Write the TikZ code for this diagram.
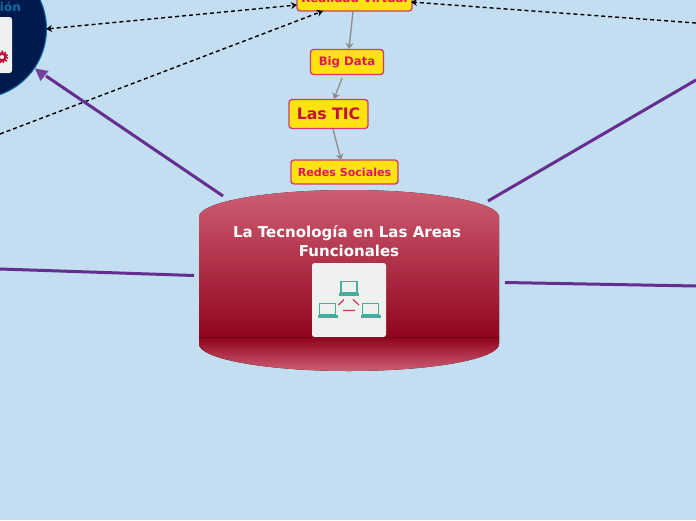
\documentclass[tikz,border=0pt]{standalone}
\usepackage{fontspec}
\setmainfont{DejaVu Sans}
\usetikzlibrary{arrows.meta}
\definecolor{bgc}{HTML}{C3DDF1}
\definecolor{yel}{HTML}{FFE210}
\definecolor{pinkb}{HTML}{CF3E6A}
\definecolor{pinkt}{HTML}{E5145F}
\definecolor{rubyt}{HTML}{C4103C}
\definecolor{purp}{HTML}{652D90}
\definecolor{ruby}{HTML}{90041F}
\definecolor{rosy}{HTML}{CE5E72}
\definecolor{navy}{HTML}{001A4D}
\definecolor{teal1}{HTML}{45AD9B}
\definecolor{icon}{HTML}{EFF1EE}
\definecolor{dashb}{HTML}{0A6EA5}
\tikzset{
 x=1pt,y=-1pt,
 tbox/.style={draw=pinkb,line width=1.3pt,rounded corners=3pt,fill=yel,inner sep=0pt,font=\bfseries\fontsize{11.7}{13}\selectfont,text=pinkt,anchor=center},
 grayarr/.style={draw=black!45,line width=1.3pt,-{Stealth[length=6pt,width=8pt]}},
 dasharr/.style={draw=black,line width=1.4pt,dash pattern=on 4pt off 3pt,-{Stealth[length=6pt,width=7pt]}},
 dblarr/.style={draw=black,line width=1.4pt,dash pattern=on 4pt off 3pt,{Stealth[length=6pt,width=7pt]}-{Stealth[length=6pt,width=7pt]}},
 mainline/.style={draw=purp,line width=3pt},
 lap/.style={draw=teal1,line width=1.2pt,fill=icon},
}
\newcommand{\laptop}[2]{%
 \draw[lap] (#1-8,#2-6.5) rectangle (#1+8,#2+5);
 \fill[teal1] (#1-10,#2+5) -- (#1+10,#2+5) -- (#1+10,#2+8) -- (#1-10,#2+8) -- cycle;
}
\begin{document}
\begin{tikzpicture}
\useasboundingbox (0,0) rectangle (696,520);
\fill[bgc] (0,0) rectangle (696,520);
% free ends
\coordinate (lf) at (0,134);
\coordinate (rf) at (696,23);
\coordinate (ml) at (0,269);
\coordinate (mr) at (696,286);
\coordinate (mur) at (696,80);
% navy circle
\fill[navy,draw=dashb,line width=1pt] (-23,29) circle (69.5);
\node[font=\bfseries\fontsize{12}{14}\selectfont,text=dashb,anchor=east,inner sep=0pt] (cirtext) at (21,7) {ión};
\fill[icon,rounded corners=2.5pt] (-40,17) rectangle (12,73);
\draw[rubyt,line width=2.6pt] (2,57) circle (3.6);
\draw[rubyt,line width=1.8pt,dash pattern=on 1.6pt off 1.54pt] (2,57) circle (5.6);
% drum
\fill[top color=rosy,bottom color=ruby] (199,217) arc[start angle=180,end angle=0,x radius=150,y radius=-27] -- (499,338) -- (199,338) -- cycle;
\fill[top color=ruby,bottom color=rosy] (199,337.5) -- (499,337.5) -- (499,344) arc[start angle=0,end angle=180,x radius=150,y radius=27] -- cycle;
\node[font=\bfseries\fontsize{15}{19}\selectfont,text=white,align=center,inner sep=0pt] (main) at (347,241) {La Tecnología en Las Areas\\\hspace*{4pt}Funcionales};
\node[fill=icon,rounded corners=2.5pt,minimum width=74pt,minimum height=74pt,inner sep=0pt] (ic) at (349,300) {};
\laptop{349}{288}
\laptop{327.5}{310}
\laptop{370.5}{310}
\draw[rubyt!80!pink,line width=1.2pt] (338.5,305) -- (344,299.5) (353,299.5) -- (359,305) (343,310.5) -- (355,310.5);
% boxes
\node[tbox,minimum width=115pt,minimum height=26pt] (rv) at (354.5,-2) {Realidad Virtual};
\node[tbox,minimum width=73pt,minimum height=25pt] (bd) at (347,62) {\raisebox{-.8pt}{Big Data}};
\node[tbox,minimum width=79pt,minimum height=29pt,text=rubyt,font=\bfseries\fontsize{15.7}{18}\selectfont] (tic) at (328.5,114) {\raisebox{-.6pt}{Las TIC}};
\node[tbox,minimum width=107pt,minimum height=24pt,font=\bfseries\fontsize{11.1}{13}\selectfont] (rs) at (344.5,172) {Redes Sociales};
% gray arrows
\draw[grayarr] (353,11) -- (349,49);
\draw[grayarr] (342,78) -- (334,99);
\draw[grayarr] (333,129) -- (341,160);
% dashed
\draw[dblarr] (46,29) -- (297,5);
\draw[dasharr] (lf) -- (323,11);
\draw[dasharr] (rf) -- (411,2);
% purple
\draw[mainline] (223,196) -- (46,76);
\fill[purp!90!white] (35,68.5) -- (48.5,71) -- (40.5,81) -- cycle;
\draw[mainline] (488,201) -- (mur);
\draw[mainline] (194,275.5) -- (ml);
\draw[mainline] (505,282.5) -- (mr);
\end{tikzpicture}
\end{document}
